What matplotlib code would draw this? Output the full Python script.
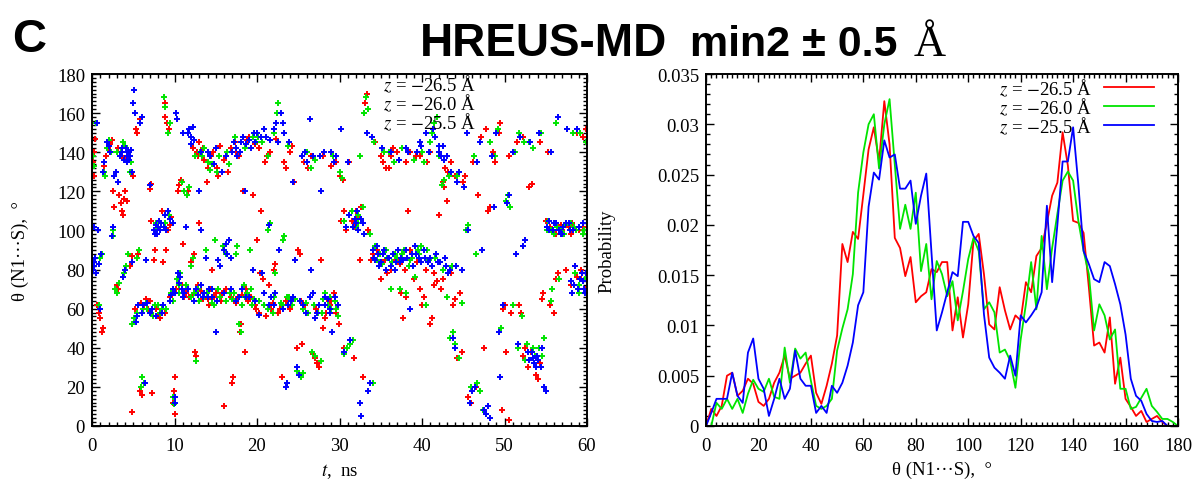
import matplotlib
matplotlib.use("Agg")
import matplotlib.pyplot as plt
import numpy as np
from matplotlib.ticker import FormatStrFormatter, MultipleLocator

plt.rcParams["font.family"] = ["Liberation Serif", "DejaVu Serif"]
plt.rcParams["mathtext.fontset"] = "stix"

RED = "#ff0000"
GREEN = "#00e400"
BLUE = "#0000ff"

LABELS = [r"$z$ = $-$26.5 Å", r"$z$ = $-$26.0 Å", r"$z$ = $-$25.5 Å"]

# ---- left panel: theta(N1...S) vs time (t ns, theta deg)
red_pts = [
    (0.1, 135), (0.2, 128), (0.3, 140), (0.4, 147), (0.6, 62), (0.8, 58), (1.0, 55), (1.2, 48), (1.3, 50),
    (1.5, 133), (1.7, 138), (1.9, 142), (2.2, 144), (2.4, 146), (2.6, 120), (2.7, 112), (3.0, 72), (3.2, 70),
    (3.3, 118), (3.5, 114), (3.6, 110), (3.8, 108), (3.9, 116), (4.0, 120), (4.3, 115), (4.6, 82), (4.8, 87),
    (5.0, 128), (4.8, 7), (5.3, 152), (5.5, 150), (5.8, 157), (5.6, 88), (5.8, 18), (6.0, 16), (6.3, 62),
    (6.5, 65), (6.8, 60), (7.0, 121), (7.1, 124), (7.3, 17), (7.5, 85), (7.6, 90), (8.0, 57), (8.3, 55),
    (8.6, 84), (8.8, 165), (8.9, 158), (9.1, 155), (9.3, 152), (9.0, 90), (9.4, 103), (9.6, 107), (9.8, 12),
    (9.9, 18), (10.1, 25), (10.0, 6), (10.4, 120), (10.6, 123), (10.8, 126), (11.0, 93), (10.9, 72), (11.4, 68),
    (11.6, 120), (11.8, 66), (12.0, 84), (12.4, 88), (12.5, 38), (12.6, 36), (12.7, 140), (12.9, 138),
    (13.0, 104), (13.2, 69), (13.4, 142), (13.6, 136), (13.9, 125), (14.0, 65), (14.2, 62), (14.4, 138),
    (14.5, 80), (14.8, 66), (15.1, 132), (15.3, 128), (15.5, 143), (15.8, 68), (16.0, 10), (16.3, 70),
    (16.5, 130), (17.0, 22), (17.1, 25), (17.3, 145), (17.5, 140), (17.7, 66), (17.9, 48), (18.1, 52),
    (18.3, 120), (18.5, 38), (18.7, 70), (19.0, 148), (19.3, 66), (19.5, 118), (19.7, 62), (20.0, 95),
    (20.4, 78), (20.5, 110), (20.7, 75), (21.0, 135), (21.2, 138), (21.5, 72), (21.7, 60), (22.0, 80),
    (22.2, 83), (22.5, 58), (23.0, 25), (23.3, 135), (23.5, 132), (23.8, 66), (24.2, 143), (24.5, 125),
    (24.6, 85), (24.8, 40), (25.0, 90), (25.2, 88), (25.5, 42), (25.8, 62), (26.5, 138), (26.8, 37),
    (27.0, 35), (27.3, 32), (27.5, 30), (27.8, 85), (28.0, 50), (28.2, 55), (28.5, 65), (28.8, 62),
    (29.0, 133), (29.3, 68), (29.6, 58), (29.9, 52), (30.0, 128), (30.2, 105), (30.4, 126), (30.5, 40),
    (30.8, 100), (31.2, 135), (31.5, 105), (31.7, 35), (32.0, 110), (32.3, 107), (32.5, 85), (32.8, 25),
    (33.1, 165), (33.3, 170), (33.5, 100), (33.8, 85), (34.3, 145), (34.6, 90), (35.0, 75), (35.3, 135),
    (35.6, 132), (35.8, 78), (36.2, 138), (36.5, 142), (36.8, 85), (37.2, 136), (37.5, 68), (37.7, 55),
    (37.9, 80), (38.0, 66), (38.3, 110), (38.6, 140), (39.0, 75), (39.3, 138), (39.7, 70), (40.0, 62),
    (40.3, 66), (40.6, 135), (41.0, 52), (41.2, 55), (41.5, 72), (41.8, 74), (42.0, 108), (42.3, 70),
    (42.5, 125), (42.7, 122), (43.0, 115), (43.2, 130), (43.5, 135), (43.7, 62), (44.0, 65), (44.3, 35),
    (44.6, 68), (44.8, 38), (45.0, 125), (45.2, 128), (45.6, 15), (45.9, 12), (46.2, 135), (46.5, 20),
    (46.8, 118), (47.2, 148), (47.5, 40), (47.8, 152), (48.0, 110), (48.3, 112), (48.6, 140), (48.9, 135),
    (49.3, 150), (49.5, 155), (49.7, 8), (49.8, 60), (50.0, 62), (50.2, 38), (50.5, 3), (50.6, 138),
    (50.8, 58), (51.2, 140), (51.5, 145), (51.7, 62), (52.0, 58), (52.3, 148), (52.5, 40), (52.8, 30),
    (53.0, 122), (53.3, 124), (53.8, 26), (54.0, 24), (54.3, 145), (54.5, 65), (54.7, 68), (55.0, 105),
    (55.3, 140), (55.5, 62), (55.8, 100), (56.0, 58), (56.3, 75), (56.5, 78), (56.8, 103), (57.5, 80),
    (57.8, 102), (58.2, 104), (58.5, 82), (58.8, 150), (59.0, 100), (59.3, 75), (59.5, 148), (59.7, 70),
    (59.9, 152),
    # denser bands
    (5.2, 60), (5.9, 63), (7.0, 64), (7.8, 60), (8.8, 58), (9.5, 66), (10.2, 70), (11.2, 66), (12.2, 67),
    (12.8, 72), (13.5, 65), (14.3, 70), (15.0, 68), (15.6, 64), (16.8, 66), (17.4, 63), (18.2, 67), (18.9, 64),
    (19.9, 60), (20.2, 58), (21.1, 56), (21.9, 63), (22.8, 60), (23.5, 64), (24.0, 60), (25.3, 64), (26.2, 58),
    (27.2, 60), (28.4, 58), (29.0, 64), (12.2, 142), (13.0, 145), (14.0, 132), (14.7, 140), (16.0, 136),
    (16.8, 142), (17.8, 138), (18.8, 146), (19.8, 144), (20.3, 142), (21.6, 140), (22.3, 147), (24.0, 140),
    (25.7, 135), (26.2, 132), (28.0, 138), (29.6, 135), (35.0, 138), (36.0, 132), (37.0, 140), (38.0, 135),
    (39.8, 138), (41.0, 140), (42.8, 132), (44.0, 128), (34.0, 88), (35.5, 85), (36.3, 80), (37.3, 83),
    (38.5, 90), (39.4, 84), (40.5, 80), (41.4, 78), (42.5, 75), (43.5, 78), (7.2, 105), (8.5, 110), (9.2, 100),
    (30.5, 110), (31.8, 102), (32.6, 112), (55.5, 102), (56.2, 98), (57.0, 100), (58.0, 98), (59.5, 102),
    (58.0, 72), (58.8, 76), (59.3, 80), (52.2, 36), (53.2, 38), (54.3, 32), (3.2, 142), (3.9, 137), (4.5, 140),
]

green_pts = [
    (0.1, 138), (0.3, 133), (0.5, 155), (0.8, 62), (1.0, 86), (1.2, 88), (1.4, 130), (1.6, 128), (1.8, 142),
    (2.0, 146), (2.3, 140), (2.5, 100), (2.6, 97), (2.8, 70), (3.0, 68), (3.3, 73), (3.5, 140), (3.7, 145),
    (3.9, 78), (4.1, 82), (4.4, 88), (4.6, 130), (4.9, 52), (5.1, 55), (5.5, 86), (5.7, 90), (5.9, 20),
    (6.1, 25), (6.3, 22), (6.5, 63), (6.7, 60), (7.2, 58), (7.4, 56), (7.8, 100), (8.2, 58), (8.5, 60),
    (8.7, 168), (8.9, 163), (9.2, 150), (9.4, 155), (9.6, 68), (9.8, 15), (9.9, 11), (10.3, 75), (10.5, 72),
    (10.7, 78), (10.9, 125), (11.1, 120), (11.5, 118), (11.7, 122), (12.0, 82), (12.2, 86), (12.4, 68),
    (12.6, 33), (12.8, 70), (13.1, 140), (13.3, 138), (13.6, 66), (13.8, 90), (14.1, 135), (14.3, 131),
    (14.6, 63), (14.9, 95), (15.2, 130), (15.5, 66), (15.9, 92), (16.2, 88), (16.4, 140), (16.7, 68),
    (17.0, 65), (17.4, 88), (17.6, 92), (17.8, 52), (18.0, 48), (18.4, 72), (18.8, 68), (19.1, 90),
    (19.4, 62), (19.6, 65), (19.9, 145), (20.1, 148), (20.6, 78), (20.9, 62), (21.3, 100), (21.6, 104),
    (21.9, 58), (22.2, 78), (22.4, 160), (22.6, 165), (22.9, 63), (23.1, 95), (23.3, 97), (23.6, 22),
    (23.9, 66), (24.3, 62), (24.8, 28), (25.3, 25), (25.6, 27), (25.9, 63), (26.2, 58), (26.5, 132),
    (26.7, 38), (27.0, 36), (27.4, 58), (27.7, 33), (28.0, 65), (28.3, 68), (28.6, 62), (29.0, 60),
    (29.4, 64), (29.8, 56), (30.1, 130), (30.3, 127), (30.6, 37), (30.9, 40), (31.3, 42), (31.6, 44),
    (32.0, 102), (32.2, 108), (32.5, 138), (32.8, 112), (33.0, 160), (33.2, 168), (33.4, 162), (33.7, 98),
    (34.0, 22), (34.2, 145), (34.5, 85), (34.9, 88), (35.2, 83), (35.6, 90), (36.0, 140), (36.3, 70),
    (36.7, 88), (37.0, 86), (37.3, 70), (37.6, 88), (38.0, 68), (38.4, 82), (38.8, 86), (39.1, 76),
    (39.5, 90), (39.9, 92), (40.2, 135), (40.5, 62), (40.8, 85), (41.2, 150), (41.5, 155), (41.8, 158),
    (42.2, 84), (42.4, 123), (42.7, 126), (43.0, 66), (43.4, 45), (43.7, 48), (44.0, 42), (44.3, 128),
    (44.5, 35), (44.8, 63), (45.3, 100), (45.6, 103), (45.9, 20), (46.3, 138), (46.5, 88), (46.7, 22),
    (47.0, 18), (47.4, 8), (47.7, 6), (48.2, 145), (48.8, 138), (49.2, 152), (49.6, 50), (50.2, 115),
    (50.4, 118), (50.7, 112), (51.0, 62), (51.3, 140), (51.6, 40), (51.8, 150), (52.1, 56), (52.4, 145),
    (52.7, 42), (53.0, 145), (53.4, 142), (53.7, 36), (54.2, 40), (54.4, 150), (54.8, 45), (55.1, 100),
    (55.3, 105), (55.6, 64), (55.8, 70), (56.0, 98), (56.3, 155), (56.6, 75), (56.9, 100), (57.3, 103),
    (57.6, 152), (58.0, 104), (58.3, 150), (58.7, 100), (59.0, 72), (59.2, 150), (59.5, 98), (59.7, 68),
    (59.9, 145),
    # denser bands
    (5.5, 58), (6.2, 60), (7.6, 62), (8.0, 62), (9.0, 60), (9.8, 64), (10.6, 68), (11.4, 72), (12.0, 66),
    (13.0, 64), (13.9, 68), (14.8, 62), (15.3, 70), (16.2, 64), (17.2, 68), (18.2, 62), (18.6, 66), (19.3, 70),
    (20.3, 64), (21.3, 60), (22.0, 66), (23.0, 62), (23.6, 66), (24.6, 65), (25.6, 60), (26.9, 62), (27.9, 58),
    (28.8, 66), (29.6, 60), (12.5, 138), (13.6, 142), (14.5, 134), (15.4, 138), (16.6, 134), (17.3, 148),
    (18.5, 142), (19.5, 148), (20.6, 145), (21.3, 138), (22.0, 150), (23.8, 143), (26.0, 140), (27.0, 136),
    (29.2, 138), (35.4, 140), (36.6, 135), (37.6, 142), (39.0, 136), (40.0, 140), (41.0, 145), (42.0, 138),
    (43.3, 128), (34.3, 92), (35.8, 86), (36.4, 84), (37.8, 90), (38.6, 85), (39.6, 88), (40.6, 90), (41.6, 86),
    (42.6, 80), (43.6, 82), (7.8, 104), (8.8, 104), (9.3, 108), (30.6, 105), (31.5, 110), (32.3, 104),
    (55.6, 100), (56.4, 102), (57.2, 98), (58.4, 102), (59.6, 100), (58.5, 78), (59.0, 68), (59.8, 75),
    (52.5, 34), (53.5, 40), (54.6, 36), (3.0, 140), (4.0, 143), (4.7, 135),
]

blue_pts = [
    (0.1, 80), (0.2, 84), (0.3, 82), (0.4, 86), (0.5, 78), (0.6, 155), (0.7, 100), (0.2, 102), (0.9, 83),
    (1.0, 60), (1.1, 88), (1.3, 130), (1.5, 135), (1.8, 145), (2.0, 143), (2.2, 140), (2.4, 97), (2.6, 102),
    (2.7, 128), (2.9, 130), (3.1, 125), (3.4, 138), (3.6, 142), (3.8, 76), (4.0, 80), (4.2, 138), (4.4, 140),
    (4.5, 136), (4.7, 141), (4.8, 84), (4.9, 130), (5.0, 165), (5.1, 172), (5.2, 160), (5.3, 53), (5.5, 56),
    (5.8, 155), (6.0, 158), (6.2, 62), (6.4, 22), (6.5, 85), (6.7, 63), (7.0, 123), (7.3, 60), (7.5, 100),
    (7.7, 103), (7.9, 98), (8.1, 105), (8.3, 100), (8.5, 58), (8.7, 102), (8.9, 108), (9.2, 110), (9.4, 106),
    (9.6, 67), (9.8, 70), (10.0, 12), (10.1, 15), (10.2, 160), (10.3, 157), (10.5, 73), (10.7, 76),
    (10.9, 70), (11.0, 150), (11.2, 68), (11.4, 102), (11.6, 150), (11.8, 152), (12.0, 148), (12.2, 153),
    (12.4, 146), (12.6, 70), (12.8, 67), (13.0, 120), (13.2, 100), (13.4, 66), (13.6, 68), (13.8, 86),
    (14.0, 140), (14.2, 70), (14.5, 66), (14.8, 134), (15.0, 48), (15.3, 85), (15.5, 82), (15.7, 130),
    (16.0, 90), (16.2, 93), (16.4, 88), (16.6, 95), (16.8, 86), (17.0, 140), (17.2, 145), (17.4, 142),
    (17.6, 138), (17.8, 66), (18.0, 145), (18.3, 148), (18.5, 120), (18.7, 66), (19.0, 146), (19.3, 142),
    (19.5, 80), (19.8, 145), (20.0, 150), (20.3, 57), (20.6, 78), (20.9, 152), (21.1, 148), (21.4, 103),
    (21.7, 66), (22.0, 62), (22.3, 155), (22.5, 145), (22.7, 90), (22.9, 160), (23.1, 155), (23.3, 150),
    (23.5, 20), (23.6, 22), (23.8, 62), (24.1, 64), (24.4, 125), (24.6, 85), (24.9, 30), (25.1, 26),
    (25.4, 138), (25.6, 62), (25.9, 58), (26.1, 135), (26.4, 157), (26.6, 80), (26.8, 68), (27.0, 55),
    (27.3, 58), (27.6, 138), (27.8, 120), (28.1, 140), (28.3, 62), (28.6, 65), (28.9, 60), (29.1, 48),
    (29.3, 135), (29.6, 138), (29.8, 62), (30.2, 152), (30.6, 38), (31.0, 135), (31.3, 44), (31.6, 102),
    (31.9, 106), (32.1, 110), (32.3, 100), (32.5, 12), (32.6, 5), (32.8, 104), (33.0, 98), (33.3, 150),
    (33.5, 18), (33.7, 22), (33.9, 148), (34.1, 90), (34.3, 85), (34.5, 92), (34.7, 88), (35.0, 84),
    (35.3, 88), (35.6, 80), (35.9, 86), (36.2, 82), (36.5, 88), (36.8, 84), (37.1, 90), (37.4, 86),
    (37.7, 85), (38.0, 90), (38.3, 140), (38.5, 60), (38.8, 88), (39.1, 92), (39.4, 140), (39.6, 86),
    (39.9, 143), (40.2, 90), (40.5, 150), (40.7, 84), (41.0, 86), (41.3, 152), (41.6, 148), (41.9, 84),
    (42.1, 140), (42.3, 138), (42.5, 143), (42.7, 136), (42.9, 82), (43.2, 78), (43.5, 130), (43.7, 45),
    (44.0, 40), (44.2, 125), (44.5, 130), (44.8, 80), (45.1, 122), (45.4, 150), (45.6, 100), (45.8, 12),
    (46.1, 18), (46.4, 20), (46.7, 135), (47.0, 145), (47.3, 90), (47.5, 8), (47.8, 6), (48.0, 10),
    (48.3, 4), (48.5, 138), (48.7, 112), (49.0, 150), (49.3, 48), (49.5, 25), (49.8, 62), (50.3, 114),
    (50.6, 118), (51.0, 140), (51.4, 88), (51.6, 42), (51.9, 148), (52.3, 92), (52.5, 95), (52.8, 38),
    (53.1, 145), (53.4, 35), (53.6, 32), (53.8, 30), (54.0, 34), (54.2, 150), (54.5, 40), (54.8, 20),
    (55.0, 18), (55.2, 102), (55.4, 105), (55.6, 140), (55.9, 100), (56.2, 104), (56.5, 158), (56.8, 98),
    (57.1, 102), (57.4, 104), (57.6, 152), (57.9, 100), (58.2, 68), (58.4, 72), (58.6, 82), (58.8, 152),
    (59.1, 75), (59.4, 78), (59.6, 70), (59.8, 68),
    # denser bands
    (5.6, 62), (6.0, 58), (7.0, 58), (7.8, 56), (8.6, 62), (9.4, 64), (10.0, 68), (10.4, 78), (11.0, 66),
    (11.6, 70), (12.4, 64), (13.2, 72), (14.0, 66), (14.6, 70), (15.2, 64), (16.0, 68), (16.9, 70), (17.5, 64),
    (18.2, 70), (19.0, 66), (19.8, 64), (20.8, 68), (21.5, 62), (22.2, 68), (23.2, 60), (24.4, 66), (25.2, 64),
    (26.4, 66), (27.5, 62), (28.2, 66), (28.8, 58), (29.5, 66), (12.0, 144), (13.2, 140), (14.3, 138),
    (15.0, 142), (16.2, 138), (17.9, 140), (18.7, 144), (19.6, 150), (20.5, 148), (21.6, 146), (22.1, 152),
    (23.9, 145), (25.8, 140), (26.8, 138), (29.0, 140), (35.2, 142), (36.2, 140), (37.2, 136), (38.0, 142),
    (39.7, 145), (40.8, 140), (42.0, 143), (43.0, 138), (34.2, 86), (34.8, 82), (35.4, 90), (36.0, 86),
    (36.7, 80), (37.3, 84), (38.2, 86), (38.9, 82), (39.3, 88), (39.9, 84), (40.4, 86), (41.2, 82), (41.7, 88),
    (42.2, 84), (42.8, 86), (43.4, 80), (44.1, 82), (7.6, 98), (8.0, 102), (8.4, 104), (9.0, 100), (9.8, 104),
    (30.8, 102), (31.2, 108), (32.0, 104), (32.6, 106), (55.4, 100), (56.0, 104), (56.6, 100), (57.0, 98),
    (57.8, 104), (58.3, 100), (59.0, 102), (59.5, 104), (58.0, 74), (58.9, 70), (59.5, 74), (59.9, 78),
    (53.0, 34), (53.3, 38), (53.9, 36), (54.4, 30), (3.6, 140), (3.9, 136), (4.1, 142), (4.6, 138), (4.3, 135),
]

# ---- right panel: probability distributions, 2 degree bins
angle = list(range(0, 181, 2))
prob_red = [
    0, 0.0017, 0.001, 0.002, 0.005, 0.0053, 0.003, 0.0035, 0.0047, 0.0042,
    0.0024, 0.002, 0.0027, 0.0043, 0.0053, 0.007, 0.0047, 0.005, 0.0053, 0.0062,
    0.007, 0.0033, 0.0022, 0.004, 0.0062, 0.009, 0.0181, 0.0163, 0.0193, 0.0186,
    0.023, 0.0275, 0.0297, 0.0263, 0.0323, 0.028, 0.0187, 0.0177, 0.0149, 0.0168,
    0.0123, 0.0129, 0.0133, 0.0156, 0.0153, 0.0163, 0.0163, 0.0095, 0.0128, 0.0088,
    0.0121, 0.0184, 0.0191, 0.0151, 0.0101, 0.0096, 0.0138, 0.0115, 0.0096, 0.011,
    0.0105, 0.0143, 0.0133, 0.0169, 0.0177, 0.0202, 0.0229, 0.0242, 0.0292, 0.0259,
    0.0204, 0.0202, 0.0192, 0.0138, 0.008, 0.0083, 0.0073, 0.0108, 0.0042, 0.0068,
    0.0027, 0.0019, 0.001, 0.0015, 0.0004, 0.0007, 0.001, 0.0004, 0, 0,
    0,
]
prob_green = [
    0, 0, 0.0023, 0.0017, 0.0027, 0.0017, 0.0027, 0.0013, 0.0032, 0.0046,
    0.0037, 0.0034, 0.0047, 0.0029, 0.0027, 0.0078, 0.0043, 0.0077, 0.0067, 0.0073,
    0.0045, 0.002, 0.0017, 0.002, 0.0027, 0.0075, 0.0097, 0.0116, 0.0151, 0.0232,
    0.0272, 0.030, 0.031, 0.0256, 0.030, 0.0325, 0.026, 0.0196, 0.022, 0.0196,
    0.0232, 0.0154, 0.0181, 0.0126, 0.0164, 0.0151, 0.0129, 0.0144, 0.0105, 0.0134,
    0.0166, 0.0187, 0.0174, 0.0116, 0.0123, 0.0113, 0.0073, 0.0076, 0.0065, 0.0038,
    0.0086, 0.0121, 0.0163, 0.0116, 0.0189, 0.0136, 0.0177, 0.0211, 0.0244, 0.0253,
    0.0244, 0.0204, 0.0174, 0.0151, 0.0095, 0.0121, 0.011, 0.0086, 0.0096, 0.0037,
    0.0037, 0.0017, 0.0019, 0.0028, 0.0037, 0.002, 0.0014, 0.0007, 0.0007, 0.0004,
    0,
]
prob_blue = [
    0, 0.0013, 0.0027, 0.0027, 0.0027, 0.0053, 0.003, 0.0023, 0.0073, 0.0087,
    0.0047, 0.0037, 0.001, 0.0027, 0.0047, 0.0027, 0.0037, 0.0075, 0.0047, 0.004,
    0.004, 0.0013, 0.002, 0.0013, 0.004, 0.0033, 0.0043, 0.006, 0.0083, 0.012,
    0.0133, 0.0218, 0.0252, 0.0245, 0.0284, 0.0267, 0.027, 0.0236, 0.0236, 0.0244,
    0.0201, 0.0229, 0.0251, 0.0172, 0.0095, 0.0113, 0.0133, 0.0153, 0.0149, 0.0203,
    0.0203, 0.0189, 0.0182, 0.0111, 0.0068, 0.0058, 0.0053, 0.0047, 0.007, 0.005,
    0.011, 0.0103, 0.011, 0.0118, 0.0133, 0.0219, 0.0143, 0.020, 0.0263, 0.0263,
    0.0297, 0.024, 0.0174, 0.0161, 0.0146, 0.0143, 0.0163, 0.0159, 0.0141, 0.0121,
    0.0091, 0.0047, 0.003, 0.0025, 0.0012, 0.0005, 0.0004, 0.0005, 0, 0,
    0,
]


def style_axes(ax, xmaj, xmin, ymaj, ymin):
    ax.xaxis.set_major_locator(MultipleLocator(xmaj))
    ax.xaxis.set_minor_locator(MultipleLocator(xmin))
    ax.yaxis.set_major_locator(MultipleLocator(ymaj))
    ax.yaxis.set_minor_locator(MultipleLocator(ymin))
    ax.tick_params(which="both", direction="in", top=True, right=True, width=1.0, labelsize=13.5)
    ax.tick_params(axis="x", pad=8)
    ax.tick_params(axis="y", pad=5)
    ax.tick_params(which="major", length=6)
    ax.tick_params(which="minor", length=3)
    for sp in ax.spines.values():
        sp.set_linewidth(1.4)


fig = plt.figure(figsize=(11.97, 4.85), dpi=100)
ax1 = fig.add_axes([92 / 1197, 58 / 485, 495 / 1197, 352 / 485])
ax2 = fig.add_axes([706 / 1197, 58 / 485, 472 / 1197, 352 / 485])

for pts, col in [(red_pts, RED), (green_pts, GREEN), (blue_pts, BLUE)]:
    arr = np.array(pts)
    ax1.plot(arr[:, 0], arr[:, 1], ls="none", marker="+", ms=5, mew=1.4, color=col)

ax1.set_xlim(0, 60)
ax1.set_ylim(0, 180)
style_axes(ax1, 10, 1, 20, 2)
ax1.set_xlabel(r"$t$,  ns", fontsize=13.5, labelpad=5)
ax1.set_ylabel("θ (N1···S),  °", fontsize=13.5, labelpad=20)
for i, lab in enumerate(LABELS):
    ax1.text(0.776, 0.972 - i * 0.053, lab, transform=ax1.transAxes, ha="right", va="center", fontsize=13.5)

for vals, col in [(prob_red, RED), (prob_green, GREEN), (prob_blue, BLUE)]:
    ax2.plot(angle, vals, color=col, lw=1.3)

ax2.set_xlim(0, 180)
ax2.set_ylim(0, 0.035)
style_axes(ax2, 20, 2, 0.005, 0.001)
ax2.yaxis.set_major_formatter(FormatStrFormatter("%g"))
ax2.set_xlabel("θ (N1···S),  °", fontsize=13.5, labelpad=5)
ax2.set_ylabel("Probability", fontsize=13.5, labelpad=30)

# legend on the right panel: text right-aligned, line sample to its right
for i, (lab, col) in enumerate(zip(LABELS, (RED, GREEN, BLUE))):
    yy = 0.962 - i * 0.054
    ax2.text(0.818, yy, lab, transform=ax2.transAxes, ha="right", va="center", fontsize=13.5)
    ax2.plot([0.843, 0.949], [yy, yy], transform=ax2.transAxes, color=col, lw=1.3)

fig.text(12 / 1197, 1 - 52 / 485, "C", fontsize=34, fontweight="bold",
         family=["Liberation Sans", "DejaVu Sans"], va="baseline")
fig.text(420 / 1197, 1 - 56 / 485, "HREUS-MD", fontsize=33, fontweight="bold",
         family=["Liberation Sans", "DejaVu Sans"], va="baseline")
fig.text(690 / 1197, 1 - 56 / 485, "min2 ± 0.5", fontsize=31, fontweight="bold",
         family=["Liberation Sans", "DejaVu Sans"], va="baseline")
fig.text(914 / 1197, 1 - 56 / 485, "Å", fontsize=32, va="baseline")

fig.savefig("out.png", dpi=100)
